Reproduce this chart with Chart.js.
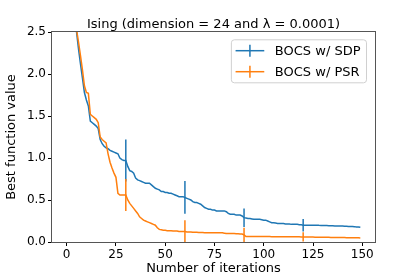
<!DOCTYPE html>
<html><head><meta charset="utf-8">
<script src="https://cdn.jsdelivr.net/npm/chart.js@4/dist/chart.umd.min.js"></script>
<style>html,body{margin:0;padding:0;background:#fff}canvas{display:block}</style>
</head><body>
<canvas id="c" width="415" height="277"></canvas>
<script>
const titleText = 'Ising (dimension = 24 and λ = 0.0001)';
const xLabel = 'Number of iterations';
const yLabel = 'Best function value';
const seriesNames = ['BOCS w/ SDP', 'BOCS w/ PSR'];
const iterations = Array.from({length: 150}, (_, i) => i);
const sdpBest = [
  3.60,3.35,3.10,2.88,2.68,2.50,2.30,2.12,1.95,1.78,
  1.69,1.62,1.44,1.42,1.40,1.38,1.35,1.22,1.17,1.14,
  1.12,1.11,1.09,1.08,1.07,1.06,1.05,1.00,0.98,0.97,
  0.97,0.90,0.85,0.84,0.82,0.76,0.74,0.73,0.72,0.71,
  0.70,0.70,0.70,0.68,0.66,0.64,0.63,0.62,0.60,0.60,
  0.59,0.59,0.58,0.58,0.57,0.56,0.55,0.54,0.54,0.54,
  0.53,0.52,0.51,0.50,0.48,0.47,0.47,0.46,0.45,0.43,
  0.41,0.40,0.39,0.39,0.38,0.38,0.37,0.37,0.37,0.37,
  0.37,0.36,0.34,0.33,0.33,0.33,0.32,0.32,0.32,0.31,
  0.29,0.285,0.28,0.28,0.275,0.27,0.27,0.27,0.27,0.265,
  0.26,0.26,0.25,0.24,0.23,0.23,0.225,0.22,0.22,0.22,
  0.22,0.215,0.215,0.215,0.21,0.21,0.21,0.21,0.205,0.205,
  0.20,0.20,0.20,0.20,0.20,0.20,0.20,0.20,0.198,0.197,
  0.196,0.195,0.195,0.194,0.193,0.192,0.19,0.19,0.19,0.19,
  0.19,0.188,0.187,0.186,0.185,0.185,0.183,0.18,0.178,0.175
];
const psrBest = [
  3.62,3.38,3.12,2.90,2.70,2.53,2.38,2.22,2.05,1.86,
  1.78,1.77,1.52,1.50,1.48,1.46,1.42,1.25,1.22,1.20,
  1.18,1.05,0.95,0.88,0.82,0.77,0.58,0.56,0.56,0.56,
  0.56,0.50,0.46,0.43,0.40,0.37,0.34,0.30,0.28,0.26,
  0.25,0.24,0.23,0.22,0.21,0.20,0.17,0.15,0.145,0.14,
  0.14,0.135,0.135,0.135,0.13,0.13,0.13,0.125,0.125,0.125,
  0.125,0.12,0.12,0.12,0.115,0.115,0.115,0.113,0.113,0.112,
  0.11,0.11,0.11,0.11,0.11,0.11,0.11,0.11,0.11,0.11,
  0.105,0.10,0.10,0.10,0.10,0.10,0.098,0.097,0.096,0.095,
  0.085,0.065,0.065,0.065,0.065,0.065,0.065,0.065,0.064,0.064,
  0.064,0.064,0.064,0.064,0.063,0.063,0.063,0.063,0.063,0.063,
  0.063,0.062,0.062,0.062,0.062,0.062,0.062,0.062,0.062,0.061,
  0.06,0.06,0.06,0.06,0.059,0.059,0.058,0.058,0.058,0.057,
  0.057,0.056,0.056,0.056,0.055,0.055,0.055,0.054,0.054,0.053,
  0.053,0.053,0.052,0.052,0.051,0.051,0.05,0.05,0.05,0.049
];
const errIter = [30, 60, 90, 120];
const sdpErr = [0.25, 0.195, 0.11, 0.075];
const psrErr = [0.19, 0.135, 0.085, 0.055];
const xTicks = [0, 25, 50, 75, 100, 125, 150];
const yTicks = [0, 0.5, 1.0, 1.5, 2.0, 2.5];

const BLUE = '#1f77b4', ORANGE = '#ff7f0e';
const FONT = "'DejaVu Sans', sans-serif";

const extras = {
  id: 'extras',
  afterDatasetsDraw(chart) {
    const {ctx, chartArea: a, scales: {x, y}} = chart;
    ctx.save();
    ctx.beginPath();
    ctx.rect(a.left, a.top, a.right - a.left, a.bottom - a.top);
    ctx.clip();
    const sets = [[sdpBest, sdpErr, BLUE], [psrBest, psrErr, ORANGE]];
    sets.forEach(([vals, errs, col]) => {
      ctx.strokeStyle = col; ctx.lineWidth = 1.5;
      errIter.forEach((it, k) => {
        const v = vals[it];
        const px = x.getPixelForValue(it);
        ctx.beginPath();
        ctx.moveTo(px, y.getPixelForValue(v - errs[k]));
        ctx.lineTo(px, y.getPixelForValue(v + errs[k]));
        ctx.stroke();
      });
    });
    ctx.restore();
    ctx.save();
    ctx.strokeStyle = '#555'; ctx.lineWidth = 1;
    ctx.strokeRect(a.left - 0.5, a.top - 0.5, a.right - a.left + 1, a.bottom - a.top + 1);
    ctx.restore();
  },
  afterDraw(chart) {
    const {ctx, chartArea: a} = chart;
    ctx.save();
    // title centred over the plot area
    ctx.font = '13px ' + FONT;
    ctx.fillStyle = '#000'; ctx.textAlign = 'center'; ctx.textBaseline = 'alphabetic';
    ctx.fillText(titleText, (a.left + a.right) / 2, a.top - 4.5);
    // legend
    const tw = Math.max(...chart.data.datasets.map(d => ctx.measureText(d.label).width));
    const lw = 4.7 + 28.7 + 10.6 + tw + 5.5;
    const lh = 43;
    const lx = a.right - 9 - lw, ly = a.top + 7.3;
    ctx.beginPath();
    ctx.roundRect(lx + 0.5, ly + 0.5, lw, lh, 3);
    ctx.fillStyle = 'rgba(255,255,255,0.8)'; ctx.fill();
    ctx.strokeStyle = '#d0d0d0'; ctx.lineWidth = 1; ctx.stroke();
    chart.data.datasets.forEach((d, i) => {
      const ry = ly + 11.4 + i * 21;
      const x0 = lx + 4.7, x1 = x0 + 28.7;
      ctx.strokeStyle = d.borderColor; ctx.lineWidth = 1.5;
      ctx.beginPath(); ctx.moveTo(x0, ry); ctx.lineTo(x1, ry); ctx.stroke();
      ctx.beginPath(); ctx.moveTo((x0 + x1) / 2, ry - 6); ctx.lineTo((x0 + x1) / 2, ry + 6); ctx.stroke();
      ctx.fillStyle = '#000'; ctx.textBaseline = 'middle'; ctx.textAlign = 'left';
      ctx.fillText(d.label, x1 + 10.6, ry + 0.5);
    });
    ctx.restore();
  }
};

new Chart(document.getElementById('c'), {
  type: 'line',
  data: {
    labels: iterations,
    datasets: [
      {label: seriesNames[0], data: sdpBest, borderColor: BLUE, backgroundColor: BLUE, borderWidth: 1.5, pointRadius: 0, tension: 0, clip: 0, order: 1},
      {label: seriesNames[1], data: psrBest, borderColor: ORANGE, backgroundColor: ORANGE, borderWidth: 1.5, pointRadius: 0, tension: 0, clip: 0, order: 0}
    ]
  },
  options: {
    responsive: false,
    animation: false,
    devicePixelRatio: 1,
    layout: {padding: {left: 0, right: 40, top: 32, bottom: 0}},
    plugins: {
      legend: {display: false},
      tooltip: {enabled: false},
      title: {display: false}
    },
    scales: {
      x: {
        type: 'linear', min: -7.45, max: 156.45,
        afterBuildTicks: s => { s.ticks = xTicks.map(v => ({value: v})); },
        afterFit: s => { s.height = 35; },
        grid: {drawOnChartArea: false, drawTicks: true, tickLength: 4, tickColor: '#000', lineWidth: 1},
        border: {display: false},
        ticks: {color: '#000', font: {family: FONT, size: 12}, padding: 2, maxRotation: 0, callback: v => String(v)},
        title: {display: true, text: xLabel, color: '#000', font: {family: FONT, size: 13}, padding: {top: 0, bottom: 1}}
      },
      y: {
        type: 'linear', min: 0, max: 2.5,
        afterBuildTicks: s => { s.ticks = yTicks.map(v => ({value: v})); },
        afterFit: s => { s.width = 52; },
        grid: {drawOnChartArea: false, drawTicks: true, tickLength: 4, tickColor: '#000', lineWidth: 1},
        border: {display: false},
        ticks: {color: '#000', font: {family: FONT, size: 12}, padding: 2, callback: v => Number(v).toFixed(1)},
        title: {display: true, text: yLabel, color: '#000', font: {family: FONT, size: 13}, padding: {top: 4, bottom: 0}}
      }
    }
  },
  plugins: [extras]
});
</script>
</body></html>
